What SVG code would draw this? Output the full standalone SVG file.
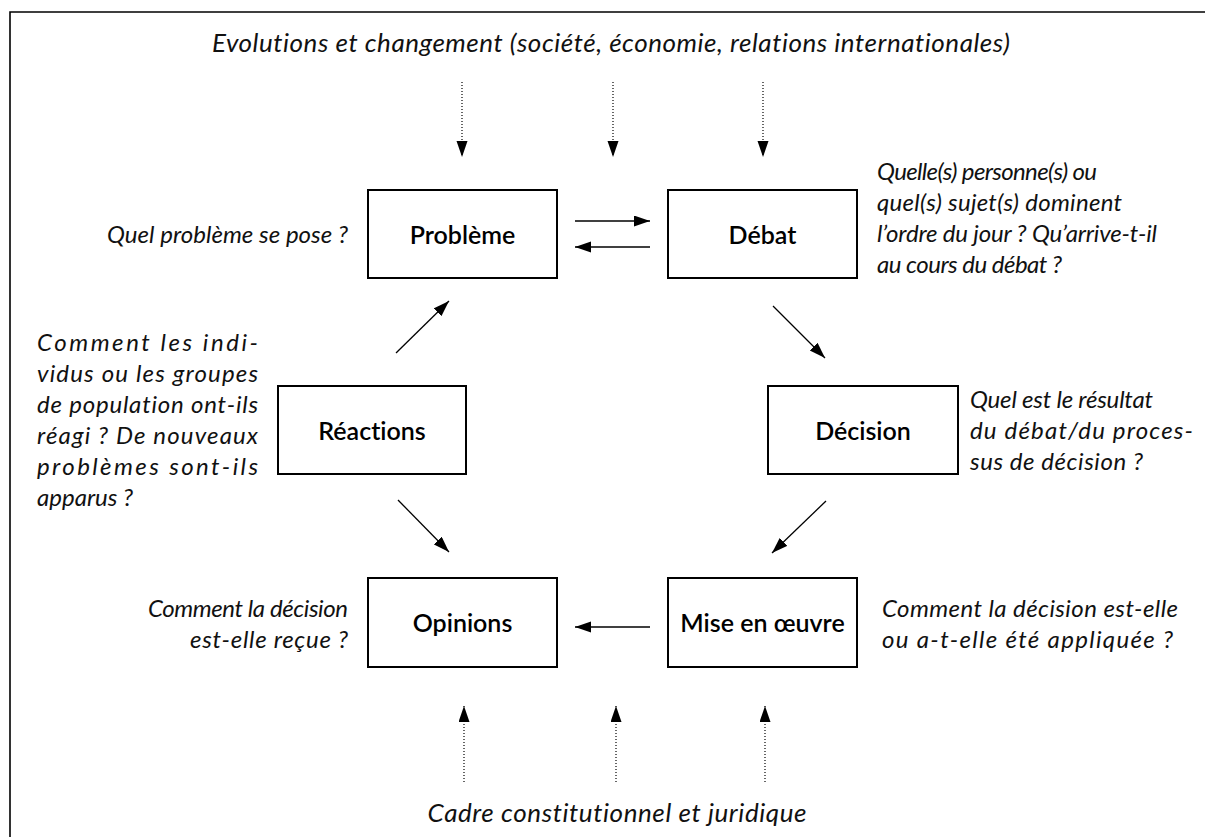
<svg xmlns="http://www.w3.org/2000/svg" width="1205" height="837" viewBox="0 0 1205 837">
<style>
text{font-variant-ligatures:none;font-feature-settings:"liga" 0,"clig" 0,"dlig" 0}
.frame{fill:none;stroke:#000;stroke-width:1.6}
.box{fill:#fff;stroke:#000;stroke-width:2}
.lbl{font-family:Lato,"Open Sans",sans-serif;font-size:25px;font-weight:600;fill:#000;text-anchor:middle}
.q{font-family:Lato,"Open Sans",sans-serif;font-size:24px;font-style:italic;fill:#111}
.t{font-family:Lato,"Open Sans",sans-serif;font-size:26px;font-style:italic;fill:#111;text-anchor:middle}
.ar{stroke:#000;stroke-width:1.3;fill:none;marker-end:url(#ah)}
.dot{stroke:#000;stroke-width:1.2;fill:none;stroke-dasharray:1 2;marker-end:url(#ah)}
</style>
<defs>
<marker id="ah" markerUnits="userSpaceOnUse" markerWidth="17" markerHeight="12" refX="16" refY="5.5" orient="auto">
<path d="M0,0 L16,5.5 L0,11 z" fill="#000"/>
</marker>
</defs>
<rect width="1205" height="837" fill="#fff"/>
<path class="frame" d="M10,837 V12 H1205"/>
<text class="t" x="611" y="52" textLength="798" lengthAdjust="spacing">Evolutions et changement (société, économie, relations internationales)</text>
<text class="t" x="617" y="822" textLength="379" lengthAdjust="spacing">Cadre constitutionnel et juridique</text>
<g id="connectors">
<path class="dot" d="M462,82 V157"/>
<path class="dot" d="M613,82 V157"/>
<path class="dot" d="M763,82 V157"/>
<path class="dot" d="M464,782 V706"/>
<path class="dot" d="M616,782 V706"/>
<path class="dot" d="M765,782 V706"/>
<path class="ar" d="M575,221 H650"/>
<path class="ar" d="M650,247 H575"/>
<path class="ar" d="M650,627 H575"/>
<path class="ar" d="M396,353 L449,301"/>
<path class="ar" d="M773,306 L825,358"/>
<path class="ar" d="M398,500 L449,552"/>
<path class="ar" d="M826,501 L772,553"/>
</g>
<g id="probleme">
<rect class="box" x="368" y="190" width="189" height="88"/>
<text class="lbl" x="462.5" y="244">Problème</text>
<text class="q" x="348" y="243" text-anchor="end" textLength="241" lengthAdjust="spacing">Quel problème se pose ?</text>
</g>
<g id="debat">
<rect class="box" x="668" y="190" width="189" height="88"/>
<text class="lbl" x="762.5" y="244">Débat</text>
<text class="q" x="877" y="180" textLength="220" lengthAdjust="spacing">Quelle(s) personne(s) ou</text>
<text class="q" x="877" y="211" textLength="245" lengthAdjust="spacing">quel(s) sujet(s) dominent</text>
<text class="q" x="877" y="242" textLength="280" lengthAdjust="spacing">l’ordre du jour ? Qu’arrive-t-il</text>
<text class="q" x="877" y="273" textLength="185" lengthAdjust="spacing">au cours du débat ?</text>
</g>
<g id="reactions">
<rect class="box" x="278" y="386" width="188" height="88"/>
<text class="lbl" x="372" y="440">Réactions</text>
<text class="q" x="37" y="351" textLength="221" lengthAdjust="spacing">Comment les indi-</text>
<text class="q" x="37" y="382" textLength="221" lengthAdjust="spacing">vidus ou les groupes</text>
<text class="q" x="37" y="413" textLength="221" lengthAdjust="spacing">de population ont-ils</text>
<text class="q" x="37" y="444" textLength="221" lengthAdjust="spacing">réagi ? De nouveaux</text>
<text class="q" x="37" y="475" textLength="221" lengthAdjust="spacing">problèmes sont-ils</text>
<text class="q" x="37" y="506">apparus ?</text>
</g>
<g id="decision">
<rect class="box" x="768" y="386" width="190" height="88"/>
<text class="lbl" x="863" y="440">Décision</text>
<text class="q" x="970" y="408" textLength="183" lengthAdjust="spacing">Quel est le résultat</text>
<text class="q" x="970" y="439" textLength="223" lengthAdjust="spacing">du débat/du proces-</text>
<text class="q" x="970" y="470" textLength="173" lengthAdjust="spacing">sus de décision ?</text>
</g>
<g id="opinions">
<rect class="box" x="368" y="578" width="189" height="89"/>
<text class="lbl" x="462.5" y="632">Opinions</text>
<text class="q" x="348" y="617" text-anchor="end" textLength="200" lengthAdjust="spacing">Comment la décision</text>
<text class="q" x="348" y="648" text-anchor="end" textLength="158" lengthAdjust="spacing">est-elle reçue ?</text>
</g>
<g id="mise">
<rect class="box" x="668" y="578" width="189" height="89"/>
<text class="lbl" x="762.5" y="632">Mise en œuvre</text>
<text class="q" x="882" y="617" textLength="296" lengthAdjust="spacing">Comment la décision est-elle</text>
<text class="q" x="882" y="648" textLength="291" lengthAdjust="spacing">ou a-t-elle été appliquée ?</text>
</g>
</svg>
